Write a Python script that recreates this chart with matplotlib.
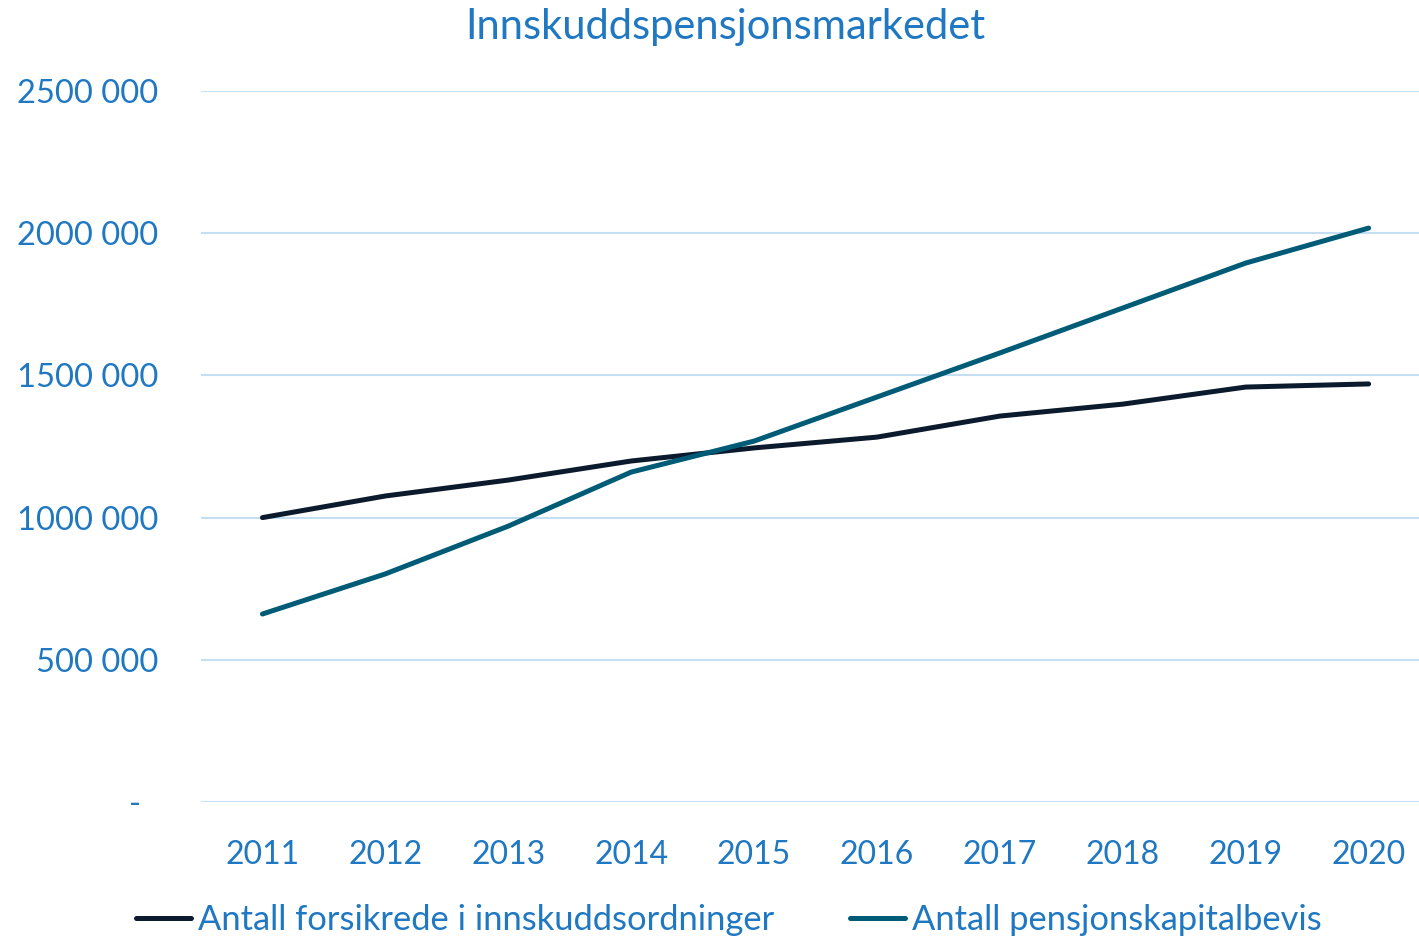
import matplotlib
matplotlib.use("Agg")
import matplotlib.pyplot as plt
from matplotlib.transforms import ScaledTranslation

years = ["2011", "2012", "2013", "2014", "2015", "2016", "2017", "2018", "2019", "2020"]
forsikrede = [1000000, 1076000, 1132000, 1199000, 1245000, 1283000, 1357000, 1399000, 1459000, 1470000]
pensjonskapitalbevis = [661000, 802000, 970000, 1160000, 1269000, 1424000, 1579000, 1737000, 1895000, 2018000]
series_names = ["Antall forsikrede i innskuddsordninger", "Antall pensjonskapitalbevis"]
yticks = [0, 500000, 1000000, 1500000, 2000000, 2500000]
ytick_labels = ["-", "500 000", "1000 000", "1500 000", "2000 000", "2500 000"]
title = "Innskuddspensjonsmarkedet"

plt.rcParams['font.family'] = ['Lato', 'DejaVu Sans']
text_color = "#1F78C1"
grid_color = "#C5DFF2"

fig = plt.figure(figsize=(14.19, 9.38), dpi=100)
ax = fig.add_axes([201/1419, 136/938, 1 - 201/1419, (802-91)/938])

x = list(range(len(years)))
ax.plot(x, forsikrede, color="#0B1A2C", lw=3.6, solid_capstyle="round", solid_joinstyle="round", label=series_names[0], zorder=3)
ax.plot(x, pensjonskapitalbevis, color="#005B76", lw=3.6, solid_capstyle="round", solid_joinstyle="round", label=series_names[1], zorder=3)

ax.set_xlim(-0.5, 9.41)
ax.set_ylim(0, 2500000)
ax.set_yticks(yticks)
ax.set_yticklabels(ytick_labels)
ax.set_xticks(x)
ax.set_xticklabels(years)
ax.grid(axis='y', color=grid_color, lw=1.5)
ax.set_axisbelow(True)
for s in ax.spines.values():
    s.set_visible(False)
ax.tick_params(axis='y', length=0, colors=text_color, labelsize=23.5, pad=31)
ax.tick_params(axis='x', length=0, colors=text_color, labelsize=23, pad=27)
lbl0 = ax.get_yticklabels()[0]
lbl0.set_transform(lbl0.get_transform() + ScaledTranslation(-0.17, 0, fig.dpi_scale_trans))

fig.text(725/1419, 1 - 27/938, title, ha='center', va='center', color=text_color, fontsize=30)

leg = fig.legend(loc='center', bbox_to_anchor=(729/1419, 1 - 920/938), ncol=2, frameon=False,
                 fontsize=24.8, handlelength=1.6, handletextpad=0.2, columnspacing=2.2, labelcolor=text_color)

fig.savefig("out.png", dpi=100)
